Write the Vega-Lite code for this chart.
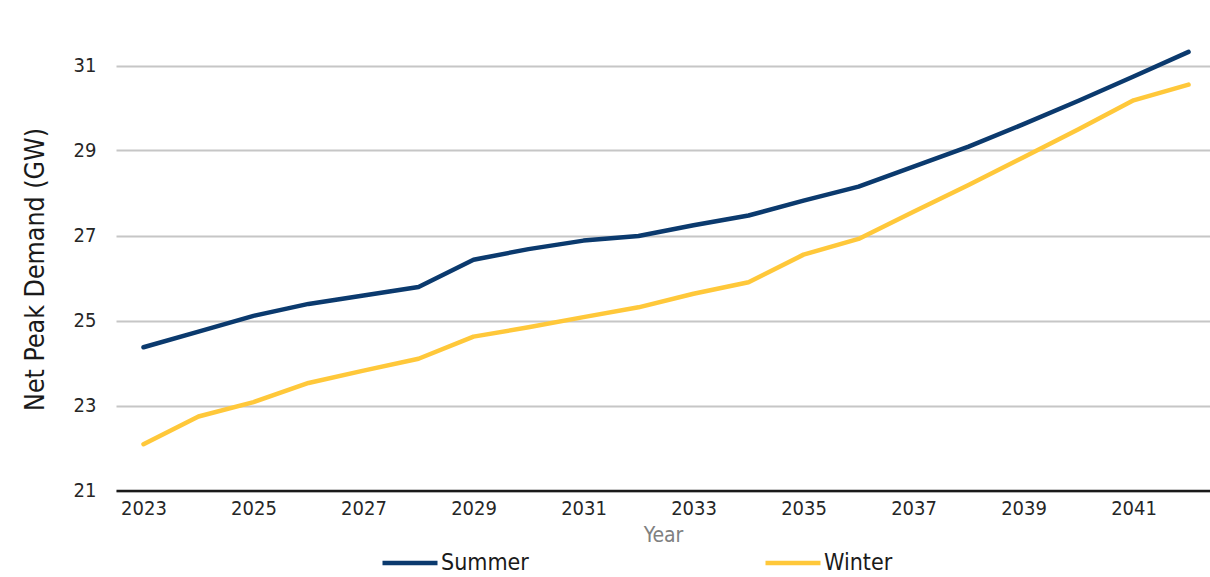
{
  "$schema": "https://vega.github.io/schema/vega-lite/v6.json",
  "width": 1094,
  "height": 467.5,
  "autosize": {"type": "none"},
  "padding": {"left": 116, "top": 23, "right": 0, "bottom": 86.5},
  "background": "white",
  "config": {
    "view": {"stroke": null},
    "font": "DejaVu Sans Condensed"
  },
  "data": {
    "values": [
      {"year": 2023, "season": "Summer", "gw": 24.37},
      {"year": 2024, "season": "Summer", "gw": 24.74},
      {"year": 2025, "season": "Summer", "gw": 25.11},
      {"year": 2026, "season": "Summer", "gw": 25.39},
      {"year": 2027, "season": "Summer", "gw": 25.59},
      {"year": 2028, "season": "Summer", "gw": 25.79},
      {"year": 2029, "season": "Summer", "gw": 26.43},
      {"year": 2030, "season": "Summer", "gw": 26.68},
      {"year": 2031, "season": "Summer", "gw": 26.88},
      {"year": 2032, "season": "Summer", "gw": 26.99},
      {"year": 2033, "season": "Summer", "gw": 27.24},
      {"year": 2034, "season": "Summer", "gw": 27.47},
      {"year": 2035, "season": "Summer", "gw": 27.82},
      {"year": 2036, "season": "Summer", "gw": 28.15},
      {"year": 2037, "season": "Summer", "gw": 28.62},
      {"year": 2038, "season": "Summer", "gw": 29.09},
      {"year": 2039, "season": "Summer", "gw": 29.62},
      {"year": 2040, "season": "Summer", "gw": 30.17},
      {"year": 2041, "season": "Summer", "gw": 30.74},
      {"year": 2042, "season": "Summer", "gw": 31.32},
      {"year": 2023, "season": "Winter", "gw": 22.09},
      {"year": 2024, "season": "Winter", "gw": 22.74},
      {"year": 2025, "season": "Winter", "gw": 23.08},
      {"year": 2026, "season": "Winter", "gw": 23.53},
      {"year": 2027, "season": "Winter", "gw": 23.82},
      {"year": 2028, "season": "Winter", "gw": 24.1},
      {"year": 2029, "season": "Winter", "gw": 24.62},
      {"year": 2030, "season": "Winter", "gw": 24.84},
      {"year": 2031, "season": "Winter", "gw": 25.08},
      {"year": 2032, "season": "Winter", "gw": 25.31},
      {"year": 2033, "season": "Winter", "gw": 25.63},
      {"year": 2034, "season": "Winter", "gw": 25.9},
      {"year": 2035, "season": "Winter", "gw": 26.55},
      {"year": 2036, "season": "Winter", "gw": 26.92},
      {"year": 2037, "season": "Winter", "gw": 27.56},
      {"year": 2038, "season": "Winter", "gw": 28.19},
      {"year": 2039, "season": "Winter", "gw": 28.84},
      {"year": 2040, "season": "Winter", "gw": 29.5},
      {"year": 2041, "season": "Winter", "gw": 30.18},
      {"year": 2042, "season": "Winter", "gw": 30.55}
    ]
  },
  "mark": {"type": "line", "strokeWidth": 4.5, "strokeCap": "round", "strokeJoin": "round"},
  "encoding": {
    "x": {
      "field": "year",
      "type": "quantitative",
      "scale": {"domain": [2022.5, 2042.39], "nice": false, "zero": false},
      "axis": {
        "title": "Year",
        "values": [2023, 2025, 2027, 2029, 2031, 2033, 2035, 2037, 2039, 2041],
        "format": "d",
        "grid": false,
        "ticks": false,
        "domainColor": "#1a1a1a",
        "domainWidth": 2.5,
        "labelFontSize": 20,
        "labelColor": "#262626",
        "labelPadding": 8,
        "labelFont": "DejaVu Sans Condensed",
        "titleFont": "DejaVu Sans Condensed",
        "titleFontSize": 21,
        "titleFontWeight": "normal",
        "titleColor": "#808080",
        "titlePadding": 6,
        "zindex": 1
      }
    },
    "y": {
      "field": "gw",
      "type": "quantitative",
      "scale": {"domain": [21, 32], "nice": false, "zero": false},
      "axis": {
        "title": "Net Peak Demand (GW)",
        "values": [21, 23, 25, 27, 29, 31],
        "domain": false,
        "ticks": false,
        "gridColor": "#c6c6c6",
        "gridWidth": 2,
        "labelFontSize": 20,
        "labelColor": "#262626",
        "labelPadding": 20,
        "labelFont": "DejaVu Sans Condensed",
        "titleFont": "DejaVu Sans Condensed",
        "titleFontSize": 26.5,
        "titleFontWeight": "normal",
        "titleColor": "#1a1a1a",
        "titlePadding": 24,
        "titleY": 246
      }
    },
    "color": {
      "field": "season",
      "type": "nominal",
      "scale": {"domain": ["Summer", "Winter"], "range": ["#0b3a6e", "#ffc83a"]},
      "legend": {
        "title": null,
        "orient": "none",
        "direction": "horizontal",
        "legendX": 264,
        "legendY": 510,
        "symbolType": "stroke",
        "symbolSize": 3025,
        "symbolStrokeWidth": 4.5,
        "labelFontSize": 23,
        "labelFont": "DejaVu Sans Condensed",
        "labelColor": "#1a1a1a",
        "labelOffset": 1,
        "columnPadding": 227
      }
    }
  }
}
